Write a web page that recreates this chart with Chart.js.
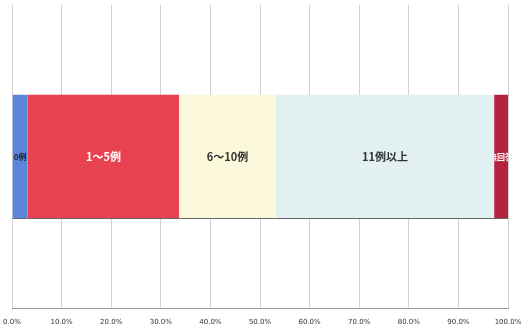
<!DOCTYPE html>
<html>
<head>
<meta charset="utf-8">
<script src="https://cdn.jsdelivr.net/npm/chart.js@4.4.0/dist/chart.umd.min.js"></script>
<style>
  html, body { margin:0; padding:0; background:#fff; }
  #wrap { width:529px; height:331px; }
</style>
</head>
<body>
<div id="wrap"><canvas id="c"></canvas></div>
<script>
// 症例数の割合（%）
const categories = ['症例数'];
const segLabels = ['0例', '1～5例', '6～10例', '11例以上', '無回答'];
const segValues = [3.2, 30.5, 19.5, 44.0, 2.8];
const segColors = ['#5a86dc', '#e8414f', '#fbf8dc', '#e3f0f2', '#b3233f'];
const segText = ['#222', '#fff', '#333', '#333', '#fff'];
const tickValues = [0, 10, 20, 30, 40, 50, 60, 70, 80, 90, 100];

// 棒の中央にラベルを書く
const inBarLabels = {
  id: 'inBarLabels',
  afterDatasetsDraw(chart) {
    const ctx = chart.ctx;
    chart.data.datasets.forEach((ds, i) => {
      const meta = chart.getDatasetMeta(i);
      meta.data.forEach(bar => {
        const w = Math.abs(bar.x - bar.base);
        ctx.save();
        ctx.font = (w < 30 ? 'bold 8px' : 'bold 11px') + ' "Noto Sans CJK JP"';
        ctx.fillStyle = segText[i];
        ctx.textAlign = 'center';
        ctx.textBaseline = 'middle';
        ctx.beginPath();
        ctx.rect(Math.min(bar.x, bar.base), bar.y - 20, w, 40);
        ctx.clip();
        ctx.fillText(ds.label, (bar.x + bar.base) / 2, bar.y);
        ctx.restore();
      });
    });
  }
};

new Chart(document.getElementById('c'), {
  type: 'bar',
  data: {
    labels: categories,
    datasets: segLabels.map((l, i) => ({
      label: l,
      data: [segValues[i]],
      backgroundColor: segColors[i],
      borderColor: '#666',
      borderWidth: {top: 0, bottom: 1, left: 0, right: 0},
      borderSkipped: false,
      barPercentage: 0.41,
      categoryPercentage: 1
    }))
  },
  options: {
    indexAxis: 'y',
    responsive: true,
    maintainAspectRatio: false,
    animation: false,
    layout: { padding: { left: 12, right: 21, top: 5, bottom: 0 } },
    plugins: { legend: { display: false }, tooltip: { enabled: false } },
    scales: {
      x: {
        stacked: true,
        min: 0, max: 100,
        afterBuildTicks: axis => { axis.ticks = tickValues.map(v => ({value: v})); },
        afterFit: axis => {
          axis.paddingLeft = 0;
          axis.paddingRight = 0;
          axis.height = Math.max(axis.height - 4, 18);
        },
        ticks: {
          callback: v => v.toFixed(1) + '%',
          font: { size: 7, family: 'DejaVu Sans' },
          color: '#333',
          maxRotation: 0,
          padding: 9
        },
        grid: { color: '#d2d2d2', drawTicks: false },
        border: { color: '#999' }
      },
      y: {
        stacked: true,
        display: false
      }
    }
  },
  plugins: [inBarLabels]
});
</script>
</body>
</html>
